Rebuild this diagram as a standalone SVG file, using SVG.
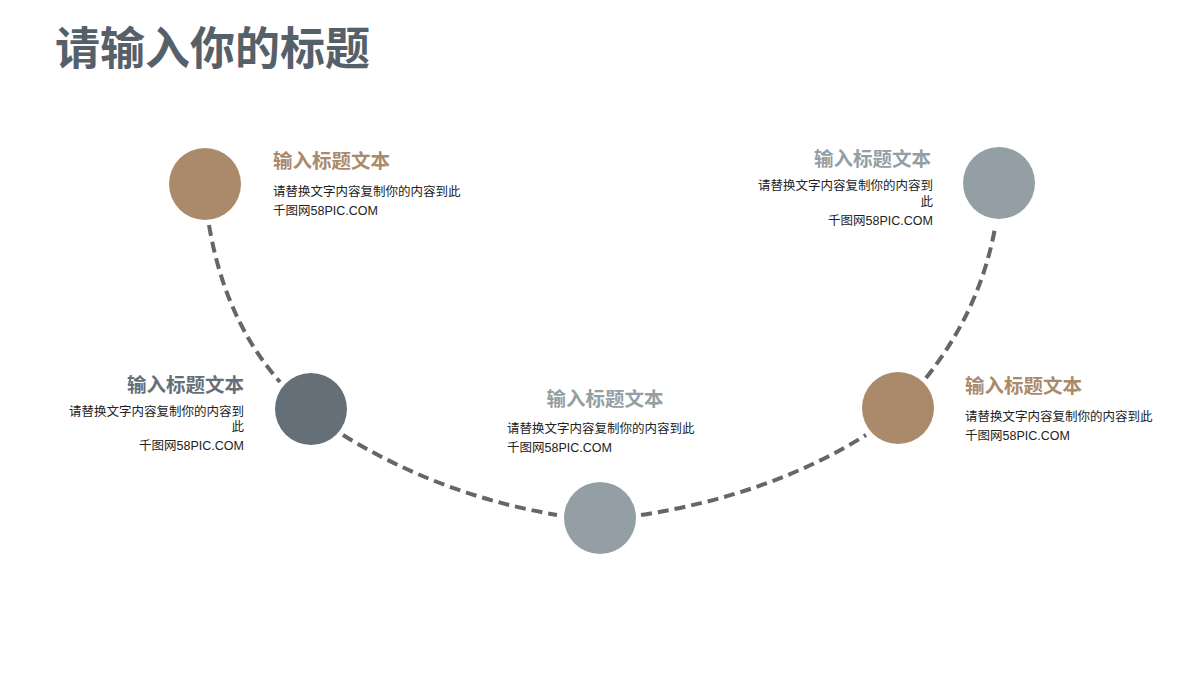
<svg xmlns="http://www.w3.org/2000/svg" width="1200" height="675" viewBox="0 0 1200 675">
<style>
.h{font-family:"Noto Sans CJK SC",sans-serif;font-weight:bold}
.t{font-family:"Noto Sans CJK SC",sans-serif;font-weight:bold;font-size:19.5px}
.b{font-family:"Liberation Sans","Noto Sans CJK SC",sans-serif;font-size:12.5px;fill:#222}
.c{fill:none;stroke:#666;stroke-width:4;stroke-dasharray:11 6}
.br{fill:#ab8a6c}.gr{fill:#939fa4}.dk{fill:#656f77}
</style>
<rect width="1200" height="675" fill="#fff"/>
<text class="h" x="55" y="65" font-size="45" fill="#566069">请输入你的标题</text>
<g id="connectors">
<path class="c" d="M209,225 Q225,320 280,382"/>
<path class="c" d="M343,435 Q440,495 557,515"/>
<path class="c" d="M641,515 Q770,495 866,435"/>
<path class="c" d="M926,378 Q980,310 995,228"/>
</g>
<g id="n1"><circle class="br" cx="205" cy="184" r="36"/>
<text class="t br" x="273" y="168">输入标题文本</text>
<text class="b" x="273" y="196">请替换文字内容复制你的内容到此</text>
<text class="b" x="273" y="215">千图网58PIC.COM</text></g>
<g id="n2"><circle class="dk" cx="311" cy="409" r="36"/>
<g text-anchor="end"><text class="t dk" x="244" y="392">输入标题文本</text>
<text class="b" x="244" y="416">请替换文字内容复制你的内容到</text>
<text class="b" x="244" y="431">此</text>
<text class="b" x="244" y="450">千图网58PIC.COM</text></g></g>
<g id="n3"><circle class="gr" cx="600" cy="518" r="36"/>
<text class="t gr" x="605" y="406" text-anchor="middle">输入标题文本</text>
<text class="b" x="507" y="433">请替换文字内容复制你的内容到此</text>
<text class="b" x="507" y="452">千图网58PIC.COM</text></g>
<g id="n4"><circle class="br" cx="898" cy="408" r="36"/>
<text class="t br" x="965" y="393">输入标题文本</text>
<text class="b" x="965" y="421">请替换文字内容复制你的内容到此</text>
<text class="b" x="965" y="440">千图网58PIC.COM</text></g>
<g id="n5"><circle class="gr" cx="999" cy="183" r="36"/>
<g text-anchor="end"><text class="t gr" x="931" y="166">输入标题文本</text>
<text class="b" x="933" y="190">请替换文字内容复制你的内容到</text>
<text class="b" x="933" y="206">此</text>
<text class="b" x="933" y="225">千图网58PIC.COM</text></g></g>
</svg>
